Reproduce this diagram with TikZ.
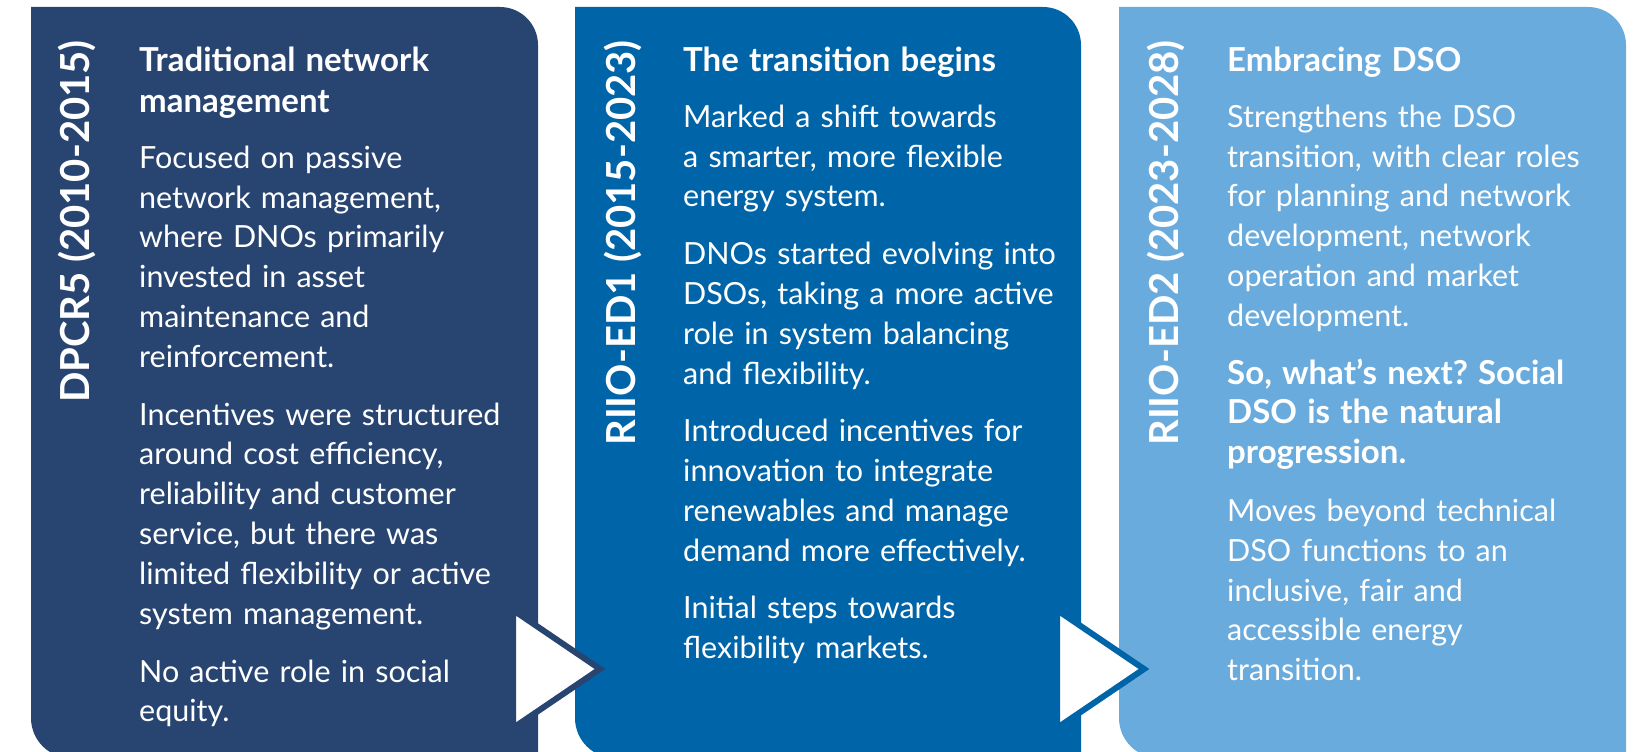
\documentclass[tikz,border=0pt]{standalone}
\usepackage{fontspec}
\setmainfont{Lato}
\usepackage{tikz}
\usetikzlibrary{positioning}
\definecolor{navy}{HTML}{284572}
\definecolor{midblue}{HTML}{0064A8}
\definecolor{lightblue}{HTML}{6AABDD}
\frenchspacing
\tikzset{
	period/.style={rotate=90,anchor=base east,inner sep=0pt,text=white,
		font=\fontsize{40}{48}\selectfont\bfseries},
	blurb/.style={anchor=base west,inner sep=0pt,text width=420pt,align=left,
		text=white,font=\fontsize{30.5}{39.85}\selectfont},
	pointer/.style={fill=white,line width=6pt,line join=miter}
}
\newcommand{\hd}{\fontsize{33}{41}\selectfont\bfseries}

\begin{document}
\begin{tikzpicture}[x=1pt,y=-1pt]
	\useasboundingbox (0,0) rectangle (1642,752);
	\clip (0,0) rectangle (1642,752);
	
	\fill[navy] (31,7) -- (500,7) arc[start angle=-90,end angle=0,radius=38]
	-- (538,758) -- (71,758) arc[start angle=90,end angle=180,radius=40] -- cycle;
	\node[period] (p1) at (89,40) {DPCR5 (2010-2015)};
	\node[blurb] (t1) at (139,72) {{\hd Traditional network\\management\par}
		\vspace{15.4pt}
		Focused on passive\\network management,\\where DNOs primarily\\invested in asset\\maintenance and\\reinforcement.\par
		\vspace{17.8pt}
		Incentives were structured\\around cost efficiency,\\reliability and customer\\service, but there was\\limited flexibility or active\\system management.\par
		\vspace{17.8pt}
		No active role in social\\equity.};
	
	\fill[midblue] (575,7) -- (1043,7) arc[start angle=-90,end angle=0,radius=38]
	-- (1081,758) -- (615,758) arc[start angle=90,end angle=180,radius=40] -- cycle;
	\node[period] (p2) at (635,40) {RIIO-ED1 (2015-2023)};
	\node[blurb] (t2) at (683,72) {{\hd The transition begins\par}
		\vspace{15.4pt}
		Marked a shift towards\\a smarter, more flexible\\energy system.\par
		\vspace{17.8pt}
		DNOs started evolving into\\DSOs, taking a more active\\role in system balancing\\and flexibility.\par
		\vspace{17.8pt}
		Introduced incentives for\\innovation to integrate\\renewables and manage\\demand more effectively.\par
		\vspace{17.8pt}
		Initial steps towards\\flexibility markets.};
	
	\fill[lightblue] (1119,7) -- (1588,7) arc[start angle=-90,end angle=0,radius=38]
	-- (1626,758) -- (1159,758) arc[start angle=90,end angle=180,radius=40] -- cycle;
	\node[period] (p3) at (1178,40) {RIIO-ED2 (2023-2028)};
	\node[blurb] (t3) at (1227,72) {{\hd Embracing DSO\par}
		\vspace{15.4pt}
		Strengthens the DSO\\transition, with clear roles\\for planning and network\\development, network\\operation and market\\development.\par
		\vspace{17.8pt}
		{\hd\baselineskip=39.8pt So, what’s next? Social\\DSO is the natural\\progression.\par}
		\vspace{17.8pt}
		Moves beyond technical\\DSO functions to an\\inclusive, fair and\\accessible energy\\transition.};
	
	\filldraw[pointer,draw=navy] (513,610) -- (600,669) -- (513,728) -- cycle;
	\filldraw[pointer,draw=midblue] (1057,610) -- (1144,669) -- (1057,728) -- cycle;
\end{tikzpicture}
\end{document}
